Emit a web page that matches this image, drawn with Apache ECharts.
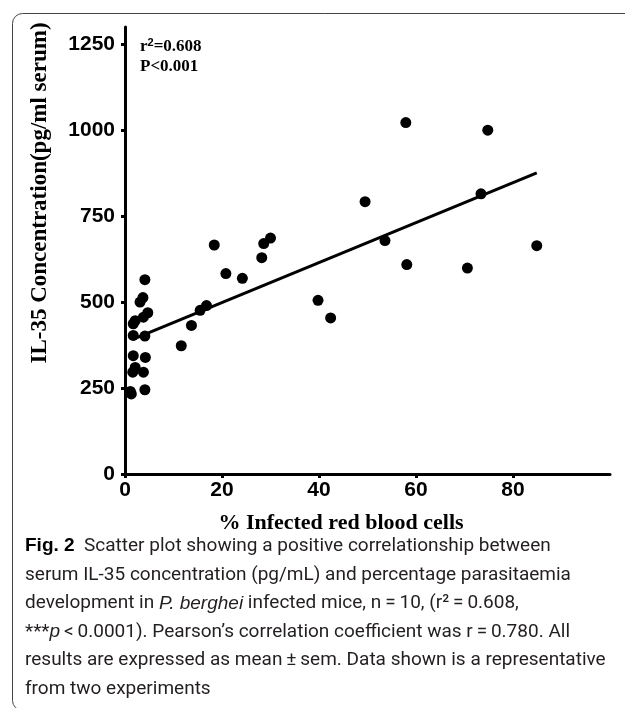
<!DOCTYPE html>
<html>
<head>
<meta charset="utf-8">
<script src="https://cdn.jsdelivr.net/npm/echarts@6/dist/echarts.min.js"></script>
<style>
  html, body { margin: 0; padding: 0; background: #fff; }
  #grafica { width: 625px; height: 708px; }
</style>
</head>
<body>
<div id="grafica"></div>
<script>
    // % de globulos rojos infectados (eje x)
    var infectados = [
        57.9, 74.8, 49.5, 73.4, 53.6, 84.9, 58.1, 70.6, 39.8, 42.4,
        18.4, 28.2, 28.6, 30.0, 20.8, 24.2, 16.8, 15.5, 13.7, 11.6,
        4.1, 3.7, 3.1, 4.7, 3.8, 2.1, 1.7, 1.7, 4.1, 1.7,
        4.2, 2.1, 1.6, 3.8, 4.1, 1.3, 1.1
    ];
    // concentracion IL-35 (eje y)
    var il35 = [
        1022, 1000, 792, 815, 679, 664, 609, 599, 505, 454,
        666, 629, 670, 686, 583, 569, 490, 476, 432, 373,
        565, 513, 500, 469, 456, 446, 437, 403, 401, 344,
        339, 310, 296, 296, 245, 233, 240
    ];
    // recta de regresion (extremos)
    var recta = [[1.7, 392], [84.9, 876]];

    var ticksX = [0, 20, 40, 60, 80];
    var ticksY = [0, 250, 500, 750, 1000, 1250];

    var puntos = [];
    infectados.forEach(function (x, i) {
        puntos.push([x, il35[i]]);
    });

    var leyenda = [
        '{b|Fig. 2}  Scatter plot showing a positive correlationship between',
        'serum IL-35 concentration (pg/mL) and percentage parasitaemia',
        'development in {i|P. berghei} infected mice, n\u2009=\u200910, (r\u00b2\u2009=\u20090.608,',
        '***{i|p}\u2009<\u20090.0001). Pearson\u2019s correlation coefficient was r\u2009=\u20090.780. All',
        'results are expressed as mean\u2009\u00b1\u2009sem. Data shown is a representative',
        'from two experiments'
    ].join('\n');

    var etiqueta = {
        color: '#000',
        fontFamily: 'Liberation Sans, Arial',
        fontWeight: 'bold',
        fontSize: 21,
        formatter: function (v) { return String(v); }
    };

    var grafica = echarts.init(document.getElementById('grafica'));

    grafica.setOption({
        animation: false,
        backgroundColor: '#fff',
        grid: { left: 125, right: 15, top: 27, bottom: 234 },
        xAxis: {
            type: 'value',
            min: 0,
            max: 100,
            interval: 20,
            splitLine: { show: false },
            axisLine: { lineStyle: { color: '#000', width: 3 } },
            axisTick: { customValues: ticksX, length: 4, lineStyle: { color: '#000', width: 3 } },
            axisLabel: Object.assign({ customValues: ticksX, margin: 6 }, etiqueta)
        },
        yAxis: {
            type: 'value',
            min: 0,
            max: 1300,
            interval: 250,
            splitLine: { show: false },
            axisLine: { lineStyle: { color: '#000', width: 3 } },
            axisTick: { customValues: ticksY, length: 4, lineStyle: { color: '#000', width: 3 } },
            axisLabel: Object.assign({ customValues: ticksY, margin: 10 }, etiqueta)
        },
        series: [{
            type: 'line',
            data: recta,
            symbol: 'none',
            lineStyle: { color: '#000', width: 3 },
            z: 1
        }, {
            type: 'scatter',
            data: puntos,
            symbolSize: 11,
            itemStyle: { color: '#000', opacity: 1 },
            z: 2
        }],
        graphic: [{
            type: 'rect',
            shape: { x: 12.5, y: 13.5, width: 700, height: 697, r: 10 },
            style: { fill: 'none', stroke: '#444', lineWidth: 1 },
            silent: true
        }, {
            type: 'text',
            x: 40,
            y: 193,
            rotation: Math.PI / 2,
            style: {
                text: 'IL-35 Concentration(pg/ml serum)',
                fontFamily: 'Liberation Serif, Times New Roman',
                fontWeight: 'bold',
                fontSize: 23,
                fill: '#000',
                align: 'center',
                verticalAlign: 'middle'
            }
        }, {
            type: 'text',
            x: 341,
            y: 523,
            style: {
                text: '% Infected red blood cells',
                fontFamily: 'Liberation Serif, Times New Roman',
                fontWeight: 'bold',
                fontSize: 22,
                fill: '#000',
                align: 'center',
                verticalAlign: 'middle'
            }
        }, {
            type: 'text',
            x: 140,
            y: 57,
            style: {
                text: 'r{sup|2}=0.608\nP<0.001',
                fontFamily: 'Liberation Serif, Times New Roman',
                fontWeight: 'bold',
                fontSize: 17,
                lineHeight: 20,
                fill: '#000',
                verticalAlign: 'middle',
                rich: {
                    sup: { fontSize: 11, verticalAlign: 'top', fontWeight: 'bold' }
                }
            }
        }, {
            type: 'text',
            x: 25,
            y: 532,
            style: {
                text: leyenda,
                fontFamily: 'Roboto, Noto Sans',
                fontSize: 19,
                lineHeight: 28.5,
                fill: '#231f20',
                rich: {
                    b: { fontWeight: 'bold', fontSize: 19, fill: '#000' },
                    i: { fontStyle: 'italic', fontSize: 19 }
                }
            }
        }]
    });
</script>
</body>
</html>
